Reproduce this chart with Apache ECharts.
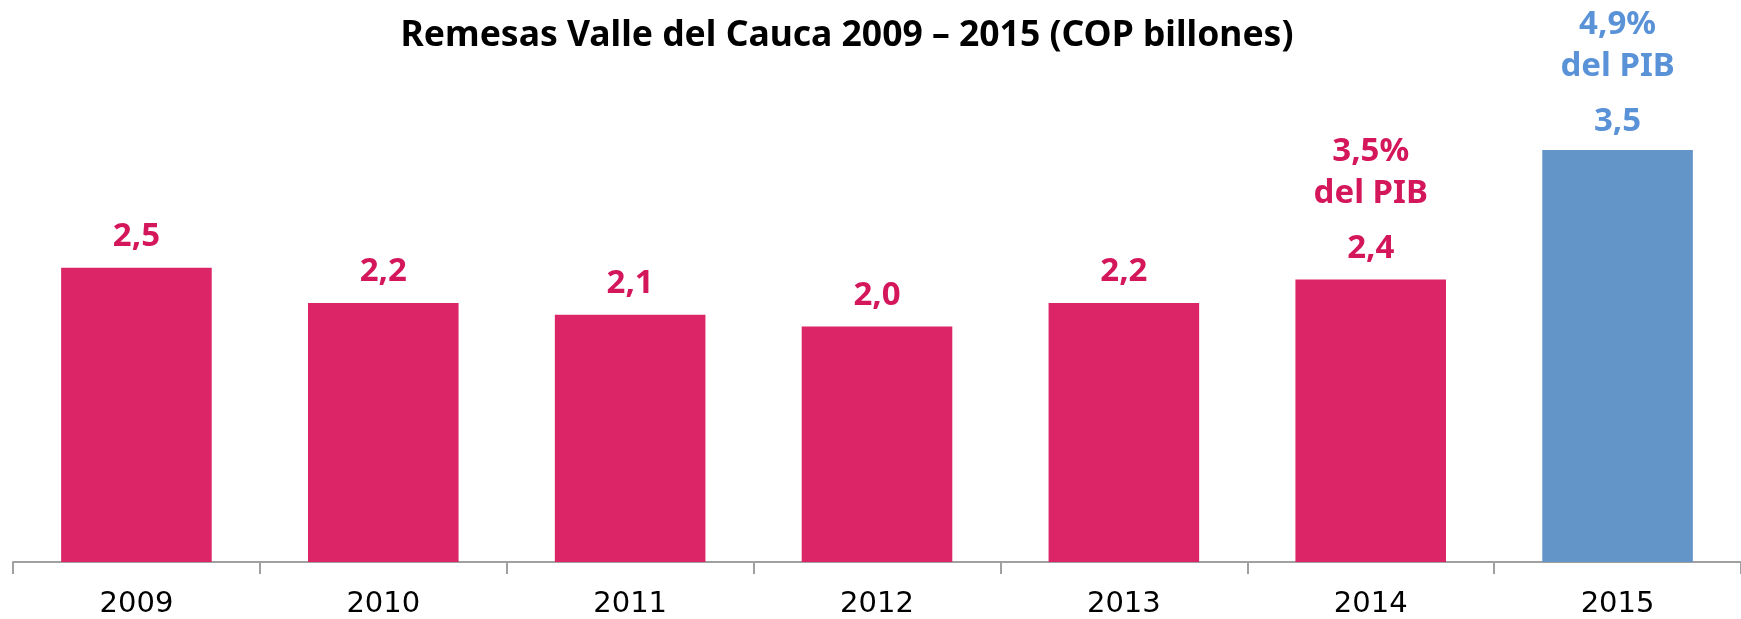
<!DOCTYPE html>
<html>
<head>
<meta charset="utf-8">
<script src="https://cdn.jsdelivr.net/npm/echarts@6/dist/echarts.min.js"></script>
<style>
  html, body { margin: 0; padding: 0; background: #fff; }
  #chart { width: 1741px; height: 619px; }
</style>
</head>
<body>
<div id="chart"></div>
<script>
const years = ['2009', '2010', '2011', '2012', '2013', '2014', '2015'];
const remesas = [2.5, 2.2, 2.1, 2.0, 2.2, 2.4, 3.5];
// share of GDP, only shown for the last two years
const pibShare = ['', '', '', '', '', '3,5%', '4,9%'];

const PINK = '#dc2566';
const PINK_TEXT = '#d4165a';
const BLUE = '#6395c8';
const BLUE_TEXT = '#5a92d8';
const LABEL_FONT = "'Noto Sans', sans-serif";

const fmt = v => v.toFixed(1).replace('.', ',');

const data = remesas.map((v, i) => {
  const last = i === remesas.length - 1;
  return {
    value: v,
    itemStyle: { color: last ? BLUE : PINK },
    label: { color: last ? BLUE_TEXT : PINK_TEXT, distance: last ? -6 : -3 },
  };
});

const chart = echarts.init(document.getElementById('chart'));
chart.setOption({
  animation: false,
  title: {
    text: 'Remesas Valle del Cauca 2009 – 2015 (COP billones)',
    left: 842,
    top: 13,
    textAlign: 'center',
    textStyle: {
      fontFamily: LABEL_FONT,
      fontWeight: 'bold',
      fontSize: 35.5,
      color: '#000',
    },
  },
  grid: { left: 13, top: 91, width: 1735, height: 472 },
  xAxis: {
    type: 'category',
    data: years,
    axisLine: { lineStyle: { color: '#a0a0a0', width: 2 } },
    axisTick: { show: true, interval: 0, length: 12, lineStyle: { color: '#a0a0a0', width: 2 } },
    axisLabel: {
      fontFamily: 'DejaVu Sans, Verdana, sans-serif',
      fontSize: 29,
      color: '#000',
      margin: 28,
    },
  },
  yAxis: { type: 'value', min: 0, max: 4, show: false },
  series: [{
    type: 'bar',
    barWidth: '61%',
    data,
    label: {
      show: true,
      position: 'top',
      formatter: p => {
        const share = pibShare[p.dataIndex];
        const val = '{v|' + fmt(p.value) + '}';
        return share ? '{p|' + share + '}\n{p|del PIB}\n' + val : val;
      },
      rich: {
        p: { fontFamily: LABEL_FONT, fontWeight: 'bold', fontSize: 33, lineHeight: 42 },
        v: { fontFamily: LABEL_FONT, fontWeight: 'bold', fontSize: 33, lineHeight: 68 },
      },
    },
  }],
});
</script>
</body>
</html>
